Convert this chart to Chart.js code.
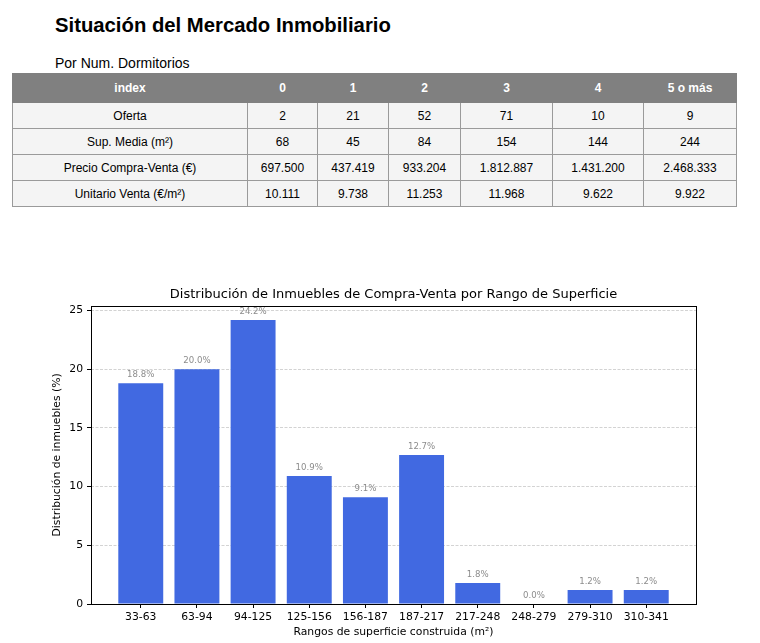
<!DOCTYPE html>
<html>
<head>
<meta charset="utf-8">
<script src="https://cdn.jsdelivr.net/npm/chart.js@4.4.1/dist/chart.umd.min.js"></script>
<style>
  body { margin: 0; background: #fff; width: 760px; height: 643px; position: relative; overflow: hidden; font-family: "Liberation Sans", Arial, sans-serif; }
  #title { position: absolute; left: 55px; top: 13px; font-size: 20.3px; line-height: 24px; font-weight: bold; color: #000; }
  #subtitle { position: absolute; left: 55px; top: 55px; font-size: 14px; line-height: 16px; color: #000; }
  #tbl { position: absolute; left: 12px; top: 73px; border-collapse: collapse; table-layout: fixed; width: 724px; font-size: 12px; }
  #tbl th { background: #808080; color: #fff; font-weight: bold; height: 28px; padding: 0; border: 1px solid #808080; }
  #tbl td { background: #f4f4f4; color: #000; text-align: center; height: 25px; padding: 0; border: 1px solid #9a9a9a; }
  #chartBox { position: absolute; left: 0; top: 270px; width: 760px; height: 373px; }
</style>
</head>
<body>
<div id="title">Situación del Mercado Inmobiliario</div>
<div id="subtitle">Por Num. Dormitorios</div>
<table id="tbl">
  <colgroup>
    <col style="width:235px"><col style="width:70px"><col style="width:71px"><col style="width:72px">
    <col style="width:92px"><col style="width:91px"><col style="width:93px">
  </colgroup>
  <thead><tr id="headRow"></tr></thead>
  <tbody id="tbody"></tbody>
</table>
<div id="chartBox"><canvas id="chart"></canvas></div>
<script>
// tabla por dormitorios
const tableCols = ['index', '0', '1', '2', '3', '4', '5 o más'];
const rowNames = ['Oferta', 'Sup. Media (m²)', 'Precio Compra-Venta (€)', 'Unitario Venta (€/m²)'];
const oferta = ['2', '21', '52', '71', '10', '9'];
const supMedia = ['68', '45', '84', '154', '144', '244'];
const precio = ['697.500', '437.419', '933.204', '1.812.887', '1.431.200', '2.468.333'];
const unitario = ['10.111', '9.738', '11.253', '11.968', '9.622', '9.922'];

// grafico de distribucion
const rangos = ['33-63', '63-94', '94-125', '125-156', '156-187', '187-217', '217-248', '248-279', '279-310', '310-341'];
const porcentajes = [18.8, 20.0, 24.2, 10.9, 9.1, 12.7, 1.8, 0.0, 1.2, 1.2];
const yTicks = [0, 5, 10, 15, 20, 25];

const headRow = document.getElementById('headRow');
tableCols.forEach(c => {
  const th = document.createElement('th');
  th.textContent = c;
  headRow.appendChild(th);
});
const tbody = document.getElementById('tbody');
[oferta, supMedia, precio, unitario].forEach((vals, r) => {
  const tr = document.createElement('tr');
  [rowNames[r]].concat(vals).forEach(v => {
    const td = document.createElement('td');
    td.textContent = v;
    tr.appendChild(td);
  });
  tbody.appendChild(tr);
});

const font = 'DejaVu Sans';

// etiquetas de porcentaje encima de cada barra + marco del grafico
const barLabels = {
  id: 'barLabels',
  afterDatasetsDraw(chart) {
    const ctx = chart.ctx;
    const meta = chart.getDatasetMeta(0);
    ctx.save();
    ctx.font = '8.6px "' + font + '"';
    ctx.fillStyle = '#8c8c8c';
    ctx.textAlign = 'center';
    ctx.textBaseline = 'alphabetic';
    meta.data.forEach((bar, i) => {
      ctx.fillText(porcentajes[i].toFixed(1) + '%', bar.x, bar.y - 6);
    });
    ctx.restore();
  },
  afterDraw(chart) {
    const a = chart.chartArea;
    const ctx = chart.ctx;
    ctx.save();
    ctx.strokeStyle = '#000';
    ctx.lineWidth = 1;
    ctx.strokeRect(Math.round(a.left) + 0.5, Math.round(a.top) + 0.5, Math.round(a.right - a.left), Math.round(a.bottom - a.top));
    ctx.restore();
  }
};

new Chart(document.getElementById('chart'), {
  type: 'bar',
  data: {
    datasets: [{
      data: porcentajes.map((v, i) => ({ x: i, y: v })),
      backgroundColor: '#4169E1',
      barPercentage: 0.8,
      categoryPercentage: 1.0
    }]
  },
  options: {
    responsive: true,
    maintainAspectRatio: false,
    animation: false,
    layout: { padding: { left: 51, right: 24, top: 0, bottom: 0 } },
    plugins: {
      legend: { display: false },
      tooltip: { enabled: false },
      title: {
        display: true,
        text: 'Distribución de Inmuebles de Compra-Venta por Rango de Superficie',
        color: '#000',
        font: { family: font, size: 13, weight: 'normal' },
        padding: { top: 16.8, bottom: 3.4 }
      }
    },
    scales: {
      x: {
        type: 'linear',
        offset: false,
        min: -0.886,
        max: 9.886,
        afterBuildTicks: s => { s.ticks = rangos.map((_, i) => ({ value: i })); },
        afterFit: s => { s.height = 39; },
        ticks: {
          autoSkip: false,
          maxRotation: 0,
          padding: 3,
          color: '#000',
          font: { family: font, size: 10.8 },
          callback: v => rangos[v]
        },
        grid: { display: true, offset: false, drawOnChartArea: false, drawTicks: true, tickLength: 4, tickColor: '#000', tickWidth: 1 },
        border: { display: false },
        title: {
          display: true,
          text: 'Rangos de superficie construida (m²)',
          color: '#000',
          font: { family: font, size: 10.8 },
          padding: { top: 0, bottom: 4 }
        }
      },
      y: {
        min: 0,
        max: 25.41,
        afterBuildTicks: s => { s.ticks = yTicks.map(v => ({ value: v })); },
        afterFit: s => { s.width = 40; },
        ticks: {
          padding: 4,
          color: '#000',
          font: { family: font, size: 10.8 }
        },
        grid: { color: 'rgba(176,176,176,0.7)', lineWidth: 0.8, tickLength: 4, tickColor: '#000', tickWidth: 1, tickBorderDash: [] },
        border: { display: false, dash: [3, 1.5] },
        title: {
          display: true,
          text: 'Distribución de inmuebles (%)',
          color: '#000',
          font: { family: font, size: 10.8 },
          padding: { top: 0, bottom: 0 }
        }
      },
      // eje vacio a la derecha para que el titulo quede centrado sobre el grafico
      yRight: {
        type: 'linear',
        position: 'right',
        afterFit: s => { s.width = 40; },
        ticks: { display: false },
        grid: { display: false },
        border: { display: false }
      }
    }
  },
  plugins: [barLabels]
});
</script>
</body>
</html>
